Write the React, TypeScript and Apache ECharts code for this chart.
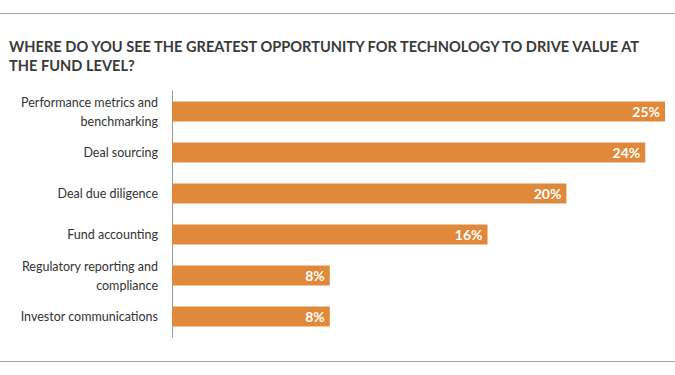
import React, { useEffect, useRef } from "react";
import * as echarts from "echarts";

const categories = [
  "Performance metrics and\nbenchmarking",
  "Deal sourcing",
  "Deal due diligence",
  "Fund accounting",
  "Regulatory reporting and\ncompliance",
  "Investor communications",
];
const values = [25, 24, 20, 16, 8, 8];
const titleText =
  "WHERE DO YOU SEE THE GREATEST OPPORTUNITY FOR TECHNOLOGY TO DRIVE VALUE AT\nTHE FUND LEVEL?";

export default function App() {
  const ref = useRef<HTMLDivElement>(null);
  useEffect(() => {
    document.body.style.margin = "0";
    const chart = echarts.init(ref.current!, null, { renderer: "svg" });
    chart.setOption({
      animation: false,
      backgroundColor: "#ffffff",
      graphic: [
        { type: "line", shape: { x1: 0, y1: 13.5, x2: 675, y2: 13.5 }, style: { stroke: "#a6a6a6", lineWidth: 1 } },
        { type: "line", shape: { x1: 0, y1: 361.5, x2: 675, y2: 361.5 }, style: { stroke: "#a6a6a6", lineWidth: 1 } },
        {
          type: "text",
          x: 9,
          y: 37,
          style: {
            text: titleText,
            fontFamily: "Lato",
            fontWeight: "bold",
            fontSize: 14.6,
            lineHeight: 19,
            fill: "#3a3a3a",
            textVerticalAlign: "top",
          },
        },
      ],
      grid: { left: 172, right: 10, top: 91, bottom: 38, containLabel: false },
      xAxis: {
        type: "value",
        min: 0,
        max: 25,
        show: false,
      },
      yAxis: {
        type: "category",
        data: categories,
        inverse: true,
        axisLine: { show: true, lineStyle: { color: "#9a9a9a", width: 1 } },
        axisTick: { show: false },
        axisLabel: {
          margin: 14,
          fontFamily: "Lato",
          fontSize: 12.5,
          lineHeight: 19,
          color: "#333333",
          align: "right",
        },
      },
      series: [
        {
          type: "bar",
          data: values,
          barWidth: 20,
          itemStyle: { color: "#e1893b" },
          label: {
            show: true,
            position: "insideRight",
            distance: 5,
            formatter: "{c}%",
            color: "#ffffff",
            fontFamily: "Lato",
            fontWeight: "bold",
            fontSize: 14,
          },
        },
      ],
    });
    return () => chart.dispose();
  }, []);
  return <div ref={ref} style={{ width: 675, height: 375 }} />;
}
